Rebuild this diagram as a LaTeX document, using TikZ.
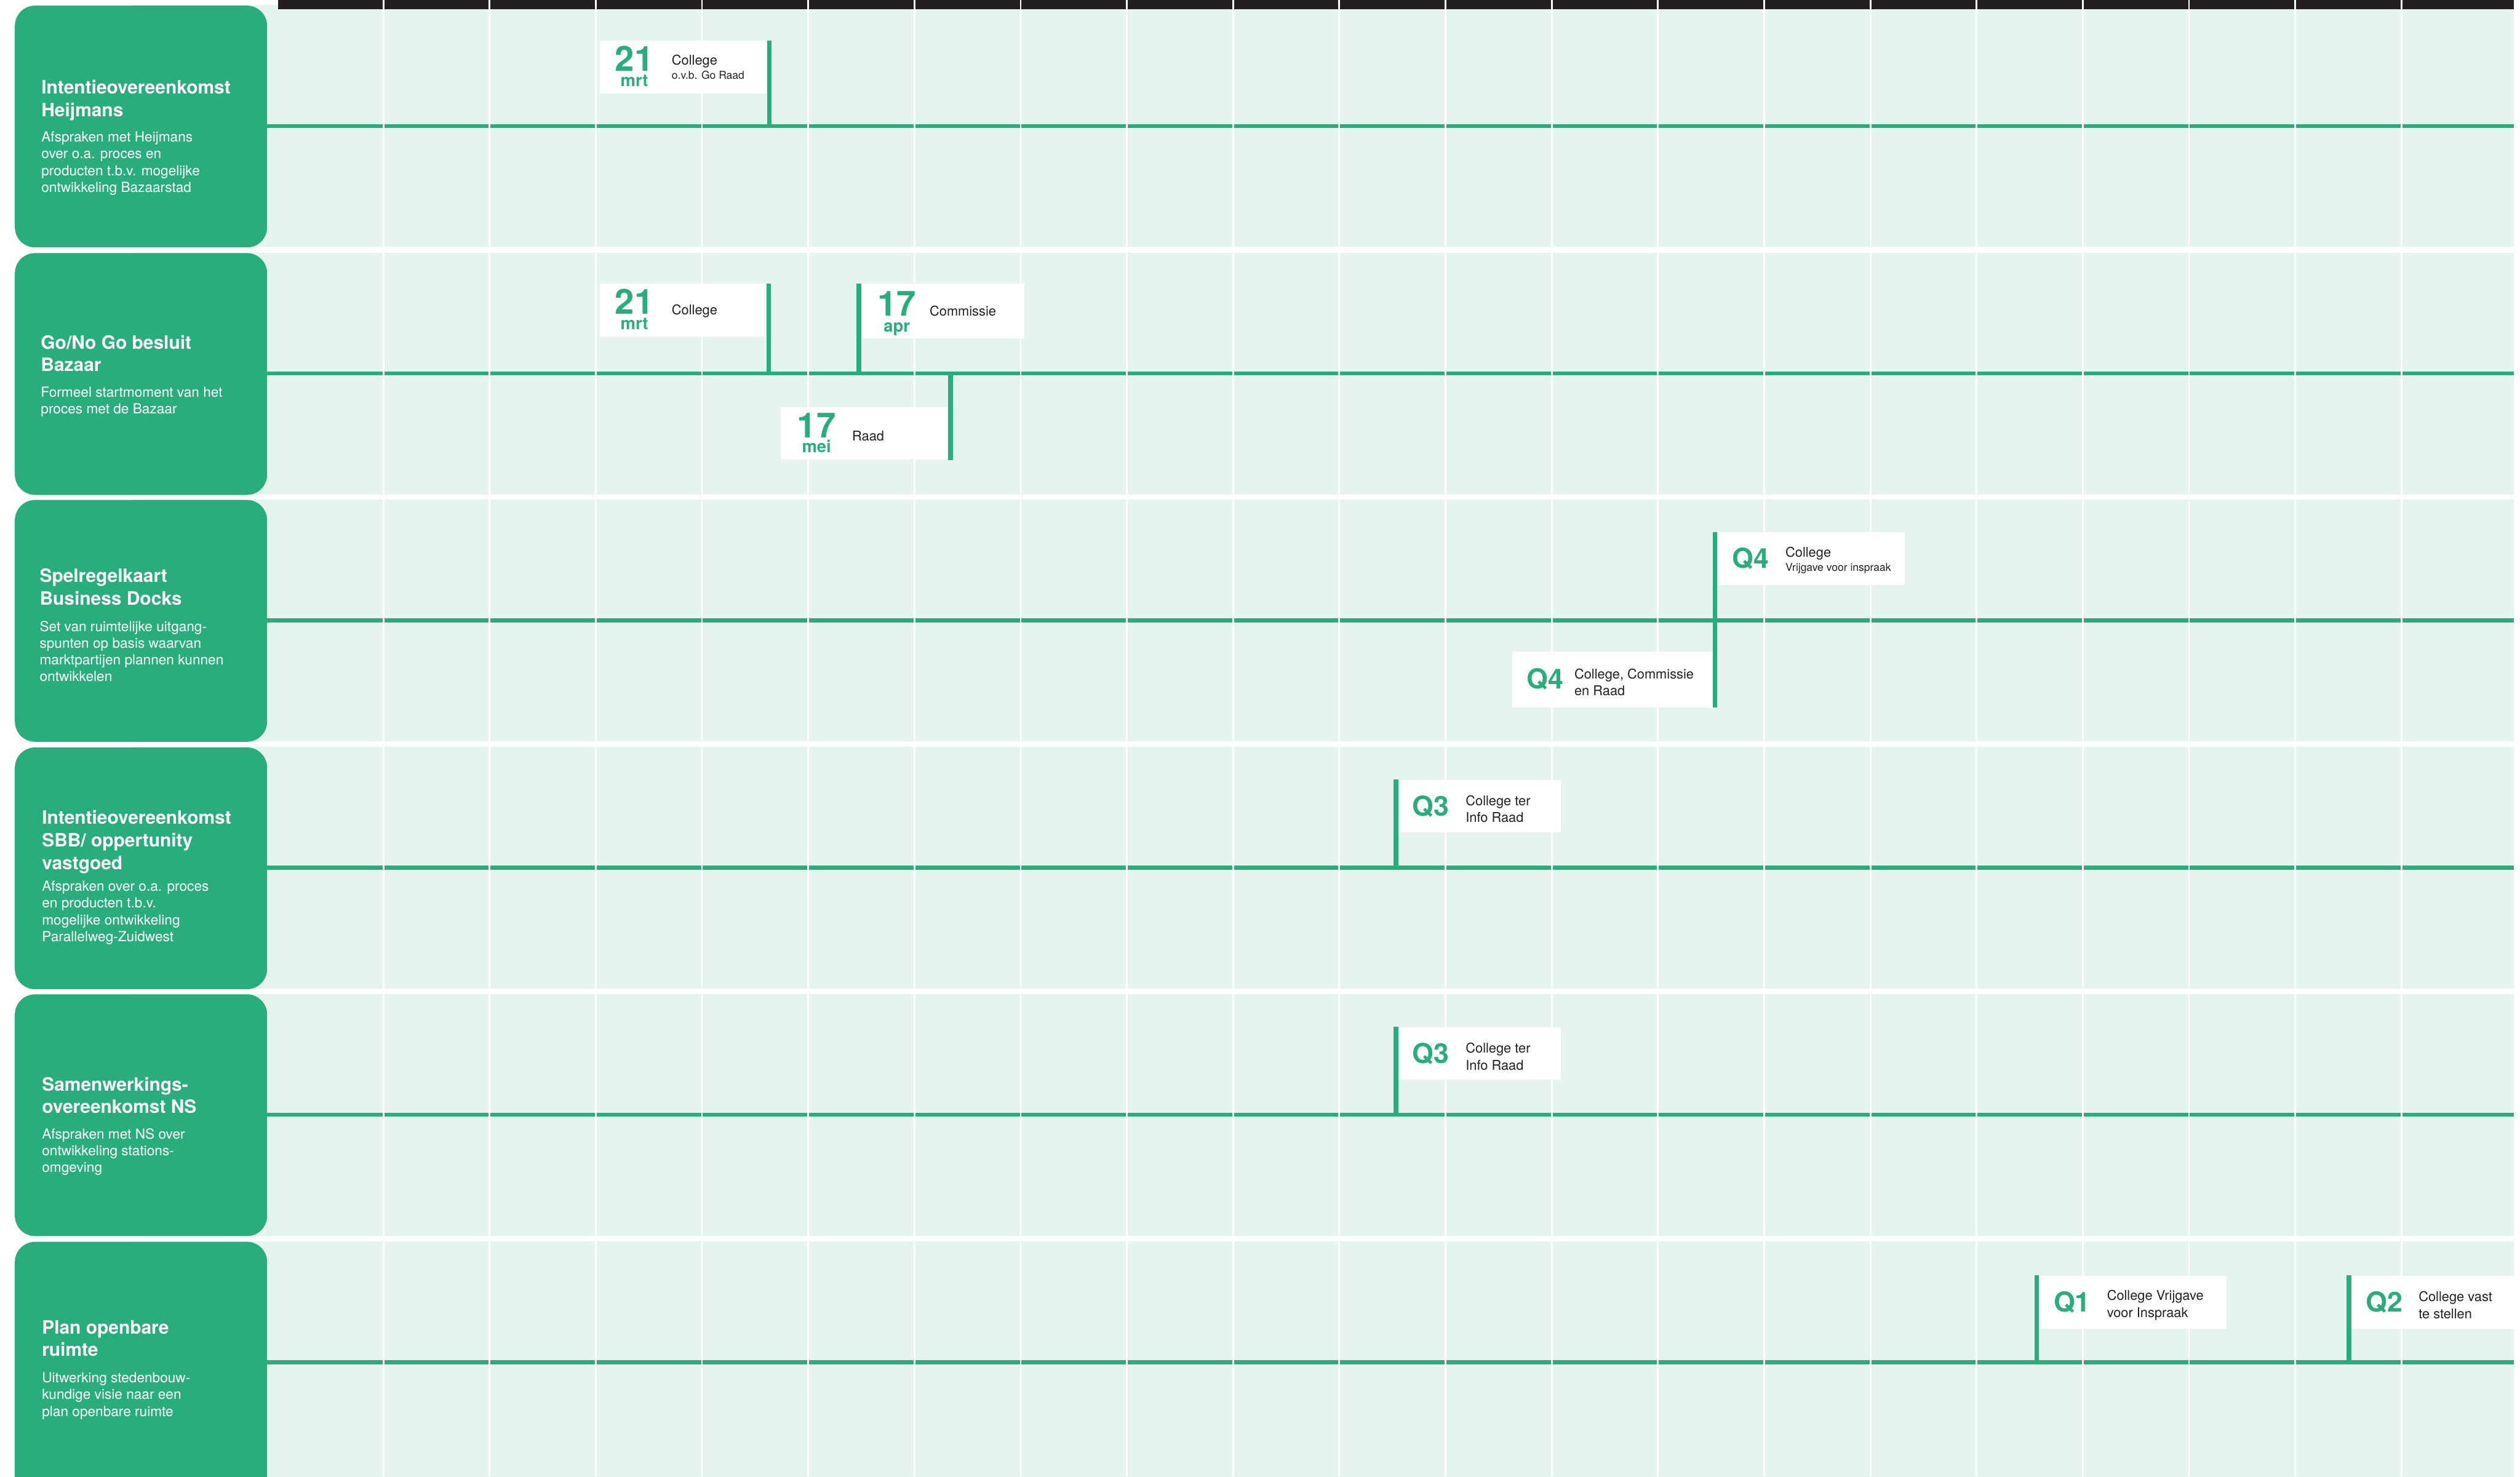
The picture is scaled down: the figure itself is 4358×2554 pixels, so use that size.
\documentclass[tikz,border=0pt]{standalone}
\usepackage{fontspec}
\setmainfont{TeX Gyre Heros}
\usetikzlibrary{positioning}
\definecolor{verde}{RGB}{42,173,124}
\definecolor{verdechiaro}{RGB}{229,244,238}
\definecolor{nero}{RGB}{35,31,32}
\tikzset{
  rowbox/.style={fill=verde, rounded corners=0.35cm, minimum width=4.36cm, minimum height=4.18cm, anchor=north west, inner sep=0},
  titolo/.style={text=white, font=\fontsize{9.05}{11.1}\selectfont\bfseries, align=left, anchor=north west, inner sep=0},
  descr/.style={text=white, font=\fontsize{6.85}{8.25}\selectfont, align=left, anchor=north west, inner sep=0},
  evbox/.style={fill=white, minimum height=0.91cm, inner sep=0},
  num/.style={text=verde, font=\fontsize{17}{17}\selectfont\bfseries, inner sep=0, anchor=base},
  mese/.style={text=verde, font=\fontsize{8.3}{8.3}\selectfont\bfseries, inner sep=0, anchor=base},
  qlab/.style={text=verde, font=\fontsize{13.5}{13.5}\selectfont\bfseries, inner sep=0, anchor=west},
  evtext/.style={text=nero, font=\fontsize{6.6}{8.3}\selectfont, align=left, inner sep=0, anchor=west},
  stem/.style={verde, line width=0.08cm},
  timeline/.style={verde, line width=0.07cm},
}
\begin{document}
\begin{tikzpicture}[x=0.01cm, y=-0.01cm]
    \useasboundingbox (0,0) rectangle (4358,2554);
    % Sfondo e linee del tempo
    \foreach \r/\t in {1/9,2/437,3/864,4/1292,5/1719,6/2147}{
      \fill[verdechiaro] (230,\t) rectangle (4347,\t+418);
      \coordinate (l\r) at (300,\t+209);
      \draw[timeline] (l\r) -- ++(4047,0);
    }
    % Intestazione
    \fill[nero] (481,0) rectangle (4347,16);
    % Griglia
    \foreach \k in {0,...,19}
      \draw[white, line width=0.03cm] (663+183.68*\k,0) -- (663+183.68*\k,2554);
    % Blocchi
    \node[rowbox] (r1) at (25,9) {};
    \node[rowbox] (r2) at (25,437) {};
    \node[rowbox] (r3) at (25,864) {};
    \node[rowbox] (r4) at (25,1292) {};
    \node[rowbox] (r5) at (25,1719) {};
    \node[rowbox, minimum height=4.4cm] (r6) at (25,2147) {};
    \node[titolo] (t1) at (71,138) {Intentieovereenkomst\\Heijmans};
    \node[descr] (d1) at (71,227) {Afspraken met Heijmans\\over o.a. proces en\\producten t.b.v. mogelijke\\ontwikkeling Bazaarstad};
    \node[titolo] (t2) at (70,579) {Go/No Go besluit\\Bazaar};
    \node[descr] (d2) at (70,668) {Formeel startmoment van het\\proces met de Bazaar};
    \node[titolo] (t3) at (68,983) {Spelregelkaart\\Business Docks};
    \node[descr] (d3) at (68,1073) {Set van ruimtelijke uitgang-\\spunten op basis waarvan\\marktpartijen plannen kunnen\\ontwikkelen};
    \node[titolo] (t4) at (72,1401) {Intentieovereenkomst\\SBB/ oppertunity\\vastgoed};
    \node[descr] (d4) at (72,1523) {Afspraken over o.a. proces\\en producten t.b.v.\\mogelijke ontwikkeling\\Parallelweg-Zuidwest};
    \node[titolo] (t5) at (72,1862) {Samenwerkings-\\overeenkomst NS};
    \node[descr] (d5) at (72,1951) {Afspraken met NS over\\ontwikkeling stations-\\omgeving};
    \node[titolo] (t6) at (72,2283) {Plan openbare\\ruimte};
    \node[descr] (d6) at (72,2373) {Uitwerking stedenbouw-\\kundige visie naar een\\plan openbare ruimte};
    % Eventi riga 1
    \node[evbox, minimum width=2.88cm, anchor=north west] (e1) at (1037,70) {};
    \node[num] (n1) at ([xshift=0.6cm, yshift=-0.07cm]e1.west) {21};
    \node[mese] (m1) at ([xshift=0.6cm, yshift=-0.33cm]e1.west) {mrt};
    \node[evtext] (x1) at ([xshift=1.24cm]e1.west) {College\\[-1.5pt]{\fontsize{5.3}{6}\selectfont o.v.b. Go Raad}};
    \draw[stem] ([xshift=0.04cm]e1.north east) -- ([xshift=0.04cm]e1.north east |- l1);
    % Eventi riga 2
    \node[evbox, minimum width=2.87cm, anchor=north west] (e2) at (1037,490) {};
    \node[num] (n2) at ([xshift=0.6cm, yshift=-0.07cm]e2.west) {21};
    \node[mese] (m2) at ([xshift=0.6cm, yshift=-0.33cm]e2.west) {mrt};
    \node[evtext] (x2) at ([xshift=1.24cm, yshift=-0.02cm]e2.west) {College};
    \draw[stem] ([xshift=0.04cm]e2.north east) -- ([xshift=0.04cm]e2.north east |- l2);
    \node[evbox, minimum width=2.82cm, minimum height=0.94cm, anchor=north west] (e3) at (1489,490) {};
    \node[num] (n3) at ([xshift=0.62cm, yshift=-0.09cm]e3.west) {17};
    \node[mese] (m3) at ([xshift=0.62cm, yshift=-0.36cm]e3.west) {apr};
    \node[evtext] (x3) at ([xshift=1.18cm]e3.west) {Commissie};
    \draw[stem] ([xshift=-0.04cm]e3.north west) -- ([xshift=-0.04cm]e3.north west |- l2);
    \node[evbox, minimum width=2.89cm, anchor=south west] (e4) at (1349,796) {};
    \node[num] (n4) at ([xshift=0.63cm, yshift=-0.07cm]e4.west) {17};
    \node[mese] (m4) at ([xshift=0.63cm, yshift=-0.33cm]e4.west) {mei};
    \node[evtext] (x4) at ([xshift=1.24cm, yshift=-0.04cm]e4.west) {Raad};
    \draw[stem] ([xshift=0.04cm]e4.south east) -- ([xshift=0.04cm]e4.south east |- l2);
    % Eventi riga 3
    \node[evbox, minimum width=3.23cm, anchor=north west] (e5) at (2970,920) {};
    \node[qlab] (q5) at ([xshift=0.25cm]e5.west) {Q4};
    \node[evtext] (x5) at ([xshift=1.17cm, yshift=-0.03cm]e5.west) {College\\[-1.5pt]{\fontsize{5.3}{6}\selectfont Vrijgave voor inspraak}};
    \node[evbox, minimum width=3.48cm, minimum height=0.97cm, anchor=south west] (e6) at (2614,1224) {};
    \node[qlab] (q6) at ([xshift=0.26cm]e6.west) {Q4};
    \node[evtext] (x6) at ([xshift=1.08cm, yshift=-0.05cm]e6.west) {College, Commissie\\en Raad};
    \draw[stem] ([xshift=-0.04cm]e5.north west) -- ([xshift=-0.04cm]e5.north west |- e6.south);
    % Eventi riga 4 e 5
    \node[evbox, minimum width=2.8cm, anchor=north west] (e7) at (2418,1348) {};
    \node[qlab] (q7) at ([xshift=0.24cm]e7.west) {Q3};
    \node[evtext] (x7) at ([xshift=1.16cm, yshift=-0.05cm]e7.west) {College ter\\Info Raad};
    \draw[stem] ([xshift=-0.04cm]e7.north west) -- ([xshift=-0.04cm]e7.north west |- l4);
    \node[evbox, minimum width=2.8cm, anchor=north west] (e8) at (2418,1776) {};
    \node[qlab] (q8) at ([xshift=0.24cm]e8.west) {Q3};
    \node[evtext] (x8) at ([xshift=1.16cm, yshift=-0.05cm]e8.west) {College ter\\Info Raad};
    \draw[stem] ([xshift=-0.04cm]e8.north west) -- ([xshift=-0.04cm]e8.north west |- l5);
    % Eventi riga 6
    \node[evbox, minimum width=3.24cm, anchor=north west] (e9) at (3526,2206) {};
    \node[qlab] (q9) at ([xshift=0.25cm]e9.west) {Q1};
    \node[evtext] (x9) at ([xshift=1.17cm, yshift=-0.05cm]e9.west) {College Vrijgave\\voor Inspraak};
    \draw[stem] ([xshift=-0.04cm]e9.north west) -- ([xshift=-0.04cm]e9.north west |- l6);
    \node[evbox, minimum width=2.81cm, anchor=north west] (e10) at (4066,2206) {};
    \node[qlab] (q10) at ([xshift=0.25cm]e10.west) {Q2};
    \node[evtext] (x10) at ([xshift=1.16cm, yshift=-0.05cm]e10.west) {College vast\\te stellen};
    \draw[stem] ([xshift=-0.04cm]e10.north west) -- ([xshift=-0.04cm]e10.north west |- l6);
\end{tikzpicture}
\end{document}
